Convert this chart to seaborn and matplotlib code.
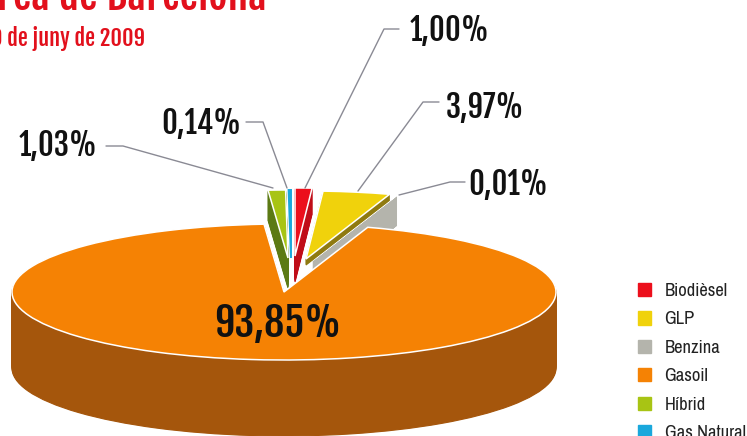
import matplotlib
matplotlib.use('Agg')
import matplotlib.pyplot as plt
import matplotlib.font_manager as fm
from matplotlib.patches import Patch
import seaborn as sns

categories = ['Biodièsel', 'GLP', 'Benzina', 'Gasoil', 'Híbrid', 'Gas Natural']
shares = [1.00, 3.97, 0.01, 93.85, 1.03, 0.14]
share_labels = ['1,00%', '3,97%', '0,01%', '93,85%', '1,03%', '0,14%']
top_colors = ['#ec0f1c', '#f0d20c', '#b4b4ac', '#f58204', '#a8c414', '#1aa8dc']
wall_colors = ['#c00d18', '#8f7a10', '#b4b4ac', '#a5560c', '#5c7a14', '#1aa8dc']

sns.set_theme(style='white')

installed = {f.name for f in fm.fontManager.ttflist}
def pick(*fams):
    return [f for f in fams if f in installed] + ['Liberation Sans', 'DejaVu Sans']

head_font = pick('Fjalla One', 'Barlow Condensed', 'Roboto Condensed')
body_font = pick('Archivo Narrow', 'Roboto Condensed', 'Barlow Condensed')
plt.rcParams['font.family'] = body_font

W, H = 747, 436
RADIUS = 272
SQUASH = 0.25  # flattening of the pie ellipse


def to_data(x, y):
    return x, (H - y) / SQUASH


fig = plt.figure(figsize=(W / 100, H / 100), dpi=100)
ax = fig.add_axes([0, 0, 1, 1])

# per slice: apex position in pixels and how deep the wall goes
apex = [(295, 256), (306, 259), (313, 260), (284, 292), (288, 258), (291, 258)]
depth = [26, 6, 30, 76, 30, 0]
# back to front so the big slice hides the lower part of the walls
order = [2, 1, 0, 4, 5, 3]

for i in order:
    for d in list(range(depth[i], 0, -1)) + [0]:
        wedges, _ = ax.pie(shares, radius=RADIUS, startangle=90, counterclock=False,
                           colors=top_colors if d == 0 else wall_colors)
        for j, w in enumerate(wedges):
            if j != i:
                w.remove()
                continue
            w.set_center(to_data(apex[i][0], apex[i][1] + d))
            if d == 0 and i != 5:
                w.set_edgecolor('white')
                w.set_linewidth(1.1)
            else:
                w.set_edgecolor(w.get_facecolor())
                w.set_linewidth(1.4 if i == 5 else 0.8)

ax.set_aspect('auto')
ax.set_xlim(0, W)
ax.set_ylim(0, H / SQUASH)
ax.axis('off')

# overlay in pixel coordinates for the text
top = fig.add_axes([0, 0, 1, 1], facecolor='none')
top.set_xlim(0, W)
top.set_ylim(H, 0)
top.axis('off')

top.text(-3, 10, 'rea de Barcelona', color='#e2101c', fontsize=30, family=head_font, va='baseline')
top.text(145, 46, '30 de juny de 2009', color='#e2101c', fontsize=16, family=head_font, ha='right', va='baseline')

label_pos = [(450, 31), (485, 108), (508, 185), (278, 324), (58, 146), (201, 124)]
sizes = [22, 22, 22, 29, 22, 22]
for lab, (x, y), s in zip(share_labels, label_pos, sizes):
    top.text(x, y, lab, ha='center', va='center', fontsize=s, family=head_font, color='#111111')

leaders = [([305, 384, 399], [188, 29, 29]), ([358, 423, 439], [191, 102, 102]),
           ([399, 450, 465], [195, 182, 182]), ([287, 263, 246], [188, 122, 122]),
           ([273, 123, 106], [188, 146, 146])]
for xs, ys in leaders:
    top.plot(xs, ys, color='#8a8a94', lw=1)

handles = [Patch(color=c, label=n) for c, n in zip(top_colors, categories)]
top.legend(handles=handles, loc='upper left', bbox_to_anchor=(638 / W, 1 - 283 / H), frameon=False,
           fontsize=13.3, labelspacing=0.67, handlelength=0.72, handleheight=0.72, handletextpad=0.72,
           labelcolor='#222222', borderaxespad=0, borderpad=0)

fig.savefig('out.png', dpi=100)
